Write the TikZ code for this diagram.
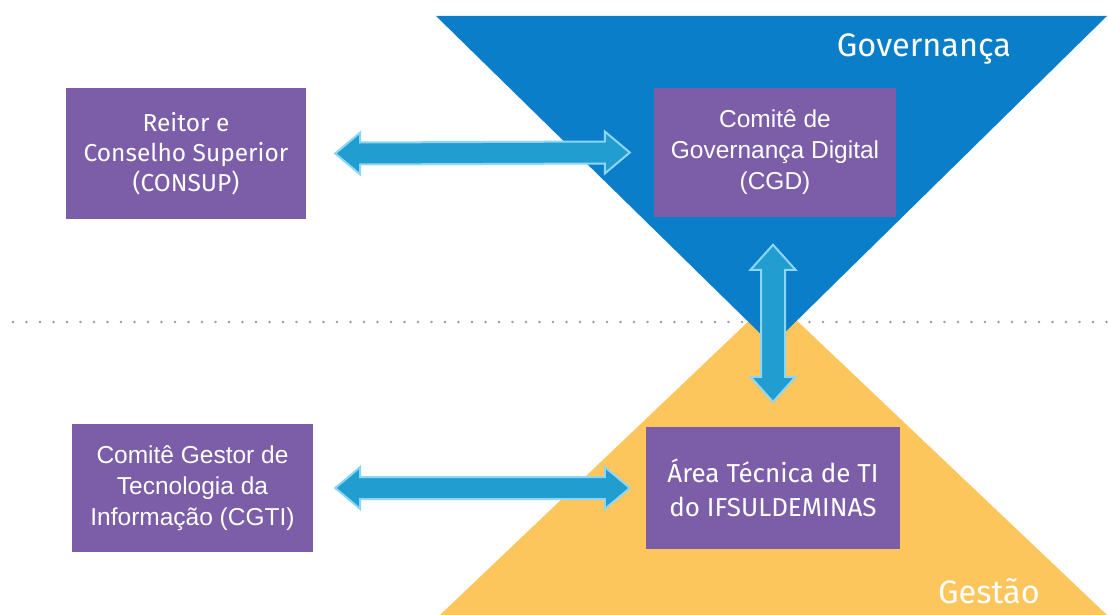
\documentclass[tikz,border=0pt]{standalone}
\usepackage{fontspec}
\setmainfont{Fira Sans}
\newfontfamily\arialf{Liberation Sans}
\usetikzlibrary{calc}
\definecolor{govblue}{HTML}{0A7EC8}
\definecolor{gestyellow}{HTML}{FDC65C}
\definecolor{boxpurple}{HTML}{7B5DA8}
\definecolor{arrowfill}{HTML}{229DCF}
\definecolor{arrowedge}{HTML}{8ED6F6}
\definecolor{dotgray}{HTML}{9C9C9C}
\newcommand{\HArrowShape}[2]{%
  \draw[arrowsty] (#1) -- ($(#1)+(25,21)$) -- ($(#1)+(25,11)$) -- ($(#2)+(-25,11)$) -- ($(#2)+(-25,21)$) -- (#2)
    -- ($(#2)+(-25,-21)$) -- ($(#2)+(-25,-11)$) -- ($(#1)+(25,-11)$) -- ($(#1)+(25,-21)$) -- cycle;}
\newcommand{\VArrowShape}[2]{%
  \draw[arrowsty] (#1) -- ($(#1)+(22.5,25)$) -- ($(#1)+(12,25)$) -- ($(#2)+(12,-25)$) -- ($(#2)+(22.5,-25)$) -- (#2)
    -- ($(#2)+(-22.5,-25)$) -- ($(#2)+(-12,-25)$) -- ($(#1)+(-12,25)$) -- ($(#1)+(-22.5,25)$) -- cycle;}
\begin{document}
\begin{tikzpicture}[x=1pt,y=-1pt,
  purplebox/.style={fill=boxpurple, text=white, align=center, inner sep=0pt},
  arrowsty/.style={fill=arrowfill, draw=arrowedge, line width=2pt, line join=miter},
  bigtitle/.style={text=white, font=\fontsize{32.5}{36}\selectfont, inner sep=0pt}]
\useasboundingbox (0,0) rectangle (1108,615);
\fill[white] (0,0) rectangle (1108,615);
% dotted separator
\draw[dotgray, line width=2.8pt, line cap=round, dash pattern=on 0pt off 13.5pt] (13,322) -- (1108,322);
% triangles
\fill[gestyellow] (440,615) -- (773,298) -- (1107,615) -- cycle;
\fill[govblue] (436,16) -- (1107,16) -- (772,345) -- cycle;
\node[bigtitle] (gov) at (924,49) {Governança};
\node[bigtitle] (gest) at (989,591) {Gestão};
% boxes
\node[purplebox, minimum width=240pt, minimum height=131pt, font=\fontsize{24.5}{30}\selectfont] (reitor) at (186,153.5)
  {Reitor e\\Conselho Superior\\(CONSUP)};
\node[purplebox, minimum width=242pt, minimum height=129pt, font=\arialf\fontsize{24.5}{31}\selectfont] (cgd) at (775,152.5)
  {Comitê de\\Governança Digital\\(CGD)};
\node[purplebox, minimum width=241pt, minimum height=128pt, font=\arialf\fontsize{24.5}{31}\selectfont] (cgti) at (192.5,488)
  {Comitê Gestor de\\Tecnologia da\\Informação (CGTI)};
\node[purplebox, minimum width=254pt, minimum height=122pt, font=\fontsize{26}{34}\selectfont] (area) at (773,488)
  {Área Técnica de TI\\do IFSULDEMINAS};
% connector end points
\coordinate (h1l) at ($(reitor.east)+(29,0)$);
\coordinate (h1r) at ($(cgd.west)+(-24,0)$);
\coordinate (h2l) at ($(cgti.east)+(22,0)$);
\coordinate (h2r) at ($(area.west)+(-16,0)$);
\coordinate (vt) at ($(area.north)+(0,-182)$);
\coordinate (vb) at ($(area.north)+(0,-25)$);
% arrows
\HArrowShape{h1l}{h1r}
\HArrowShape{h2l}{h2r}
\VArrowShape{vt}{vb}
\end{tikzpicture}
\end{document}
